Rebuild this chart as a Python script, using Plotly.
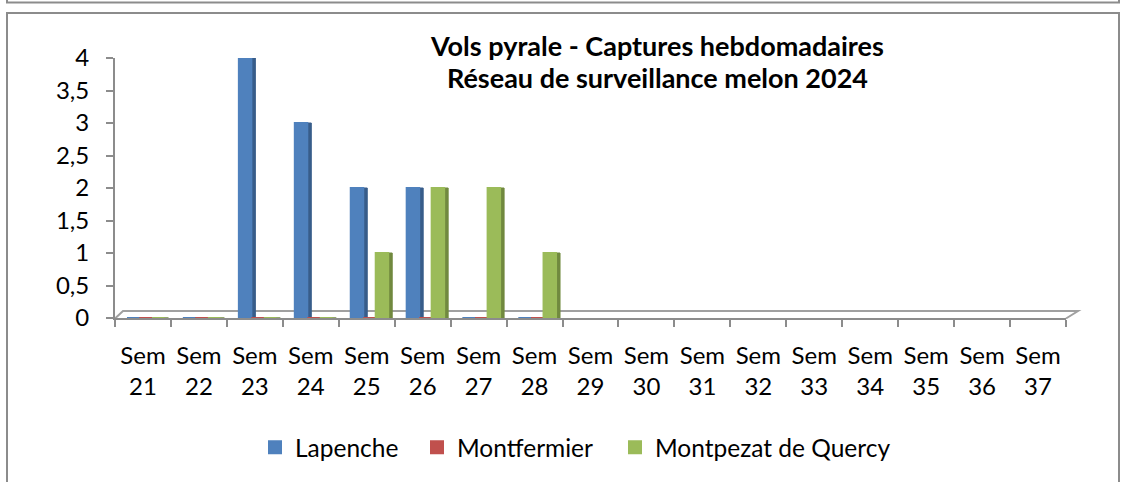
import plotly.graph_objects as go

# ---- data ----
weeks = ["21", "22", "23", "24", "25", "26", "27", "28", "29", "30",
         "31", "32", "33", "34", "35", "36", "37"]
categories = ["Sem " + w for w in weeks]
tick_labels = ["Sem<br>" + w for w in weeks]
lapenche = [0, 0, 4, 3, 2, 2, 0, 0, None, None, None, None, None, None, None, None, None]
montfermier = [0, 0, 0, 0, 0, 0, 0, 0, None, None, None, None, None, None, None, None, None]
montpezat = [0, 0, 0, 0, 1, 2, 2, 1, None, None, None, None, None, None, None, None, None]
series_names = ["Lapenche", "Montfermier", "Montpezat de Quercy"]
y_ticks = [0, 0.5, 1, 1.5, 2, 2.5, 3, 3.5, 4]

front_colors = ["#4F81BD", "#C0504D", "#9BBB59"]
side_colors = ["#385D8A", "#8C3836", "#71893F"]

W, H = 1131, 482
L, R, T, B = 115, 1066, 58, 320.5  # plot area in px


def px_x(px):
    return (px - L) / (R - L)


def px_y(py):
    return (B - py) / (B - T)


FONT = "Lato"
fig = go.Figure()

all_series = [lapenche, montfermier, montpezat]
slot = 12.5 / 56.0
side = 4.0 / 56.0
offsets = [-0.2857, -0.2857 + slot, -0.2857 + 2 * slot]
legend_ids = ["legend", "legend2", "legend3"]
legend_left = [255, 417, 615]

# side faces (darker), drawn first
for vals, off, col in zip(all_series, offsets, side_colors):
    fig.add_trace(go.Bar(x=categories, y=vals, offset=off, width=slot + side,
                         marker=dict(color=col, line=dict(color=col, width=1)),
                         showlegend=False, hoverinfo="skip"))
# front faces
for name, vals, off, col, lg in zip(series_names, all_series, offsets, front_colors, legend_ids):
    fig.add_trace(go.Bar(x=categories, y=vals, name=name, offset=off, width=slot,
                         legend=lg,
                         marker=dict(color=col, line=dict(color=col, width=2))))

# title
fig.add_annotation(x=px_x(657), xref="paper", y=px_y(45), yref="paper",
                   text="<b>Vols pyrale - Captures hebdomadaires</b>", showarrow=False,
                   font=dict(family=FONT, size=27, color="#000"), xanchor="center", yanchor="middle")
fig.add_annotation(x=px_x(657), xref="paper", y=px_y(78), yref="paper",
                   text="<b>Réseau de surveillance melon 2024</b>", showarrow=False,
                   font=dict(family=FONT, size=27, color="#000"), xanchor="center", yanchor="middle")

shapes = []
gray = "#8C8C8C"
# outer frame
shapes.append(dict(type="rect", xref="paper", yref="paper",
                   x0=px_x(7), x1=px_x(1119), y0=px_y(12.5), y1=px_y(495),
                   line=dict(color=gray, width=2), layer="below"))
# top strip (previous frame bottom)
shapes.append(dict(type="path", xref="paper", yref="paper",
                   path=f"M {px_x(7)} {px_y(-5)} L {px_x(7)} {px_y(2)} L {px_x(1119)} {px_y(2)} L {px_x(1119)} {px_y(-5)}",
                   line=dict(color=gray, width=2), layer="below"))
# 3D floor
shapes.append(dict(type="path", xref="paper", yref="paper",
                   path=f"M {px_x(115)} {px_y(321)} L {px_x(123)} {px_y(313.5)} L {px_x(1078)} {px_y(313.5)} L {px_x(1066)} {px_y(321)}",
                   line=dict(color="#A0A0A0", width=2), layer="below"))

legend_style = dict(orientation="h", xanchor="left", yanchor="middle",
                    font=dict(family=FONT, size=24.5, color="#000"), itemclick=False,
                    bgcolor="rgba(0,0,0,0)")
layout_legends = {}
for lg, lx in zip(legend_ids, legend_left):
    layout_legends[lg] = dict(legend_style, x=px_x(lx), y=px_y(451))

fig.update_layout(
    width=W, height=H,
    margin=dict(l=L, r=W - R, t=T, b=H - B),
    paper_bgcolor="white", plot_bgcolor="rgba(0,0,0,0)",
    barmode="overlay",
    separators=", ",
    font=dict(family=FONT, size=24, color="#000"),
    showlegend=True,
    shapes=shapes,
    **layout_legends,
)
fig.update_xaxes(type="category", categoryorder="array", categoryarray=categories,
                 range=[-0.5, len(categories) - 0.5],
                 tickmode="array", tickvals=categories, ticktext=tick_labels,
                 tickson="boundaries", ticks="outside", ticklen=7, tickwidth=2, tickcolor=gray,
                 ticklabelstandoff=15,
                 showline=True, linecolor=gray, linewidth=2, showgrid=False, zeroline=False,
                 tickfont=dict(family=FONT, size=24, color="#000"))
fig.update_yaxes(range=[0, 4], tickmode="array", tickvals=y_ticks,
                 ticks="outside", ticklen=7, tickwidth=2, tickcolor=gray,
                 ticklabelstandoff=12,
                 showline=True, linecolor=gray, linewidth=2, showgrid=False, zeroline=False,
                 tickfont=dict(family=FONT, size=24, color="#000"))

fig.write_html("out.html", config={"displayModeBar": False},
               post_script="document.body.style.margin='0';")
